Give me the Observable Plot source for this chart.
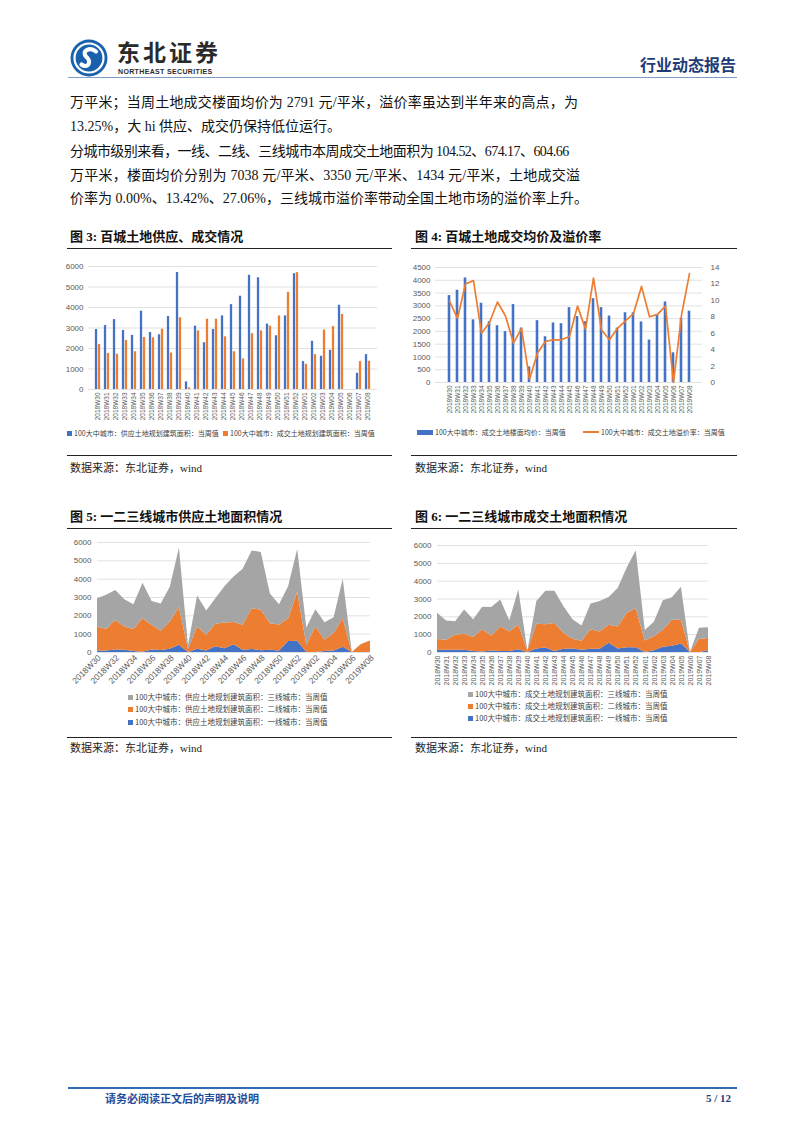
<!DOCTYPE html>
<html><head><meta charset="utf-8">
<script src="https://cdn.jsdelivr.net/npm/d3@7"></script>
<script src="https://cdn.jsdelivr.net/npm/@observablehq/plot@0.6"></script>
<style>
body{margin:0;background:#fff;}
#page{position:relative;width:802px;height:1133px;overflow:hidden;font-family:"Liberation Serif","Noto Sans CJK SC",serif;color:#111;background:#fff;}
.abs{position:absolute;}
.bl{position:absolute;left:70px;font-size:14px;line-height:16px;white-space:nowrap;text-align:justify;text-align-last:justify;}
.ft{position:absolute;font-size:13px;line-height:16px;font-weight:bold;white-space:nowrap;}
.rule{position:absolute;height:0;border-top:1.5px solid #222;}
.src{position:absolute;font-size:11px;line-height:14px;white-space:nowrap;color:#222;}
.lg{position:absolute;font-size:7px;line-height:9px;color:#404040;white-space:nowrap;font-family:"Noto Sans CJK SC",sans-serif;}
.sw{display:inline-block;width:5px;height:5px;margin-right:2px;vertical-align:0px;}
.chart{position:absolute;}
</style></head>
<body><div id="page">

<!-- header -->
<svg class="abs" style="left:70px;top:39px" width="38" height="38" viewBox="0 0 38 38">
  <circle cx="19" cy="19" r="18.5" fill="#1a61ad"/>
  <circle cx="19" cy="19" r="14.5" fill="none" stroke="#fff" stroke-width="2.2"/>
  <path d="M26 12.5 C20 7.5, 10.5 12, 16.5 18 C22.5 23.5, 17 30, 11.5 25.5" fill="none" stroke="#fff" stroke-width="4.2" stroke-linecap="round"/>
</svg>
<div class="abs" style="left:117px;top:40px;font-size:23px;line-height:22px;font-weight:bold;color:#2a2a2a;font-family:'Noto Sans CJK SC';letter-spacing:3px">东北证券</div>
<div class="abs" style="left:118px;top:68px;font-size:7px;line-height:8px;font-weight:bold;color:#2a2a2a;font-family:'Liberation Sans';letter-spacing:0.35px">NORTHEAST SECURITIES</div>
<div class="abs" style="left:640px;top:54px;font-size:16px;line-height:20px;font-weight:bold;color:#1e3c78;font-family:'Noto Sans CJK SC'">行业动态报告</div>
<div class="abs" style="left:68px;top:77px;width:669px;height:0;border-top:1px solid #7f9cc8"></div>

<!-- body text -->
<div class="bl" style="top:95px;width:508px">万平米；当周土地成交楼面均价为 2791 元/平米，溢价率虽达到半年来的高点，为</div>
<div class="bl" style="top:119px;text-align-last:auto">13.25%，大 hi 供应、成交仍保持低位运行。</div>
<div class="bl" style="top:144px;width:498px;letter-spacing:-0.55px">分城市级别来看，一线、二线、三线城市本周成交土地面积为 104.52、674.17、604.66</div>
<div class="bl" style="top:168px;width:510px">万平米，楼面均价分别为 7038 元/平米、3350 元/平米、1434 元/平米，土地成交溢</div>
<div class="bl" style="top:191px;width:508px">价率为 0.00%、13.42%、27.06%，三线城市溢价率带动全国土地市场的溢价率上升。</div>

<!-- figure titles row 1 -->
<div class="ft" style="left:70px;top:229px">图 3: 百城土地供应、成交情况</div>
<div class="ft" style="left:415px;top:229px">图 4: 百城土地成交均价及溢价率</div>
<div class="rule" style="left:67px;top:248px;width:325px"></div>
<div class="rule" style="left:411px;top:248px;width:326px"></div>
<div id="c3" class="chart" style="left:60px;top:258px"></div>
<div id="c4" class="chart" style="left:400px;top:258px"></div>
<div class="lg" style="left:67px;top:429px"><span class="sw" style="background:#4472C4"></span>100大中城市：供应土地规划建筑面积：当周值</div>
<div class="lg" style="left:223px;top:429px"><span class="sw" style="background:#ED7D31"></span>100大中城市：成交土地规划建筑面积：当周值</div>
<div class="lg" style="left:417px;top:428px"><span class="sw" style="background:#4472C4;width:16px"></span>100大中城市：成交土地楼面均价：当周值</div>
<div class="lg" style="left:583px;top:428px"><span class="sw" style="background:#ED7D31;width:16px;height:2px;vertical-align:2px"></span>100大中城市：成交土地溢价率：当周值</div>
<div class="rule" style="left:67px;top:455px;width:325px"></div>
<div class="rule" style="left:411px;top:455px;width:326px"></div>
<div class="src" style="left:70px;top:461px">数据来源：东北证券，wind</div>
<div class="src" style="left:415px;top:461px">数据来源：东北证券，wind</div>

<!-- figure titles row 2 -->
<div class="ft" style="left:70px;top:509px">图 5: 一二三线城市供应土地面积情况</div>
<div class="ft" style="left:415px;top:509px">图 6: 一二三线城市成交土地面积情况</div>
<div class="rule" style="left:67px;top:528px;width:325px"></div>
<div class="rule" style="left:411px;top:528px;width:326px"></div>
<div id="c5" class="chart" style="left:60px;top:535px"></div>
<div id="c6" class="chart" style="left:400px;top:535px"></div>
<div class="lg" style="left:128px;top:692px;font-size:7.5px"><span class="sw" style="background:#A5A5A5"></span>100大中城市：供应土地规划建筑面积：三线城市：当周值</div>
<div class="lg" style="left:128px;top:704px;font-size:7.5px"><span class="sw" style="background:#ED7D31"></span>100大中城市：供应土地规划建筑面积：二线城市：当周值</div>
<div class="lg" style="left:128px;top:717px;font-size:7.5px"><span class="sw" style="background:#4472C4"></span>100大中城市：供应土地规划建筑面积：一线城市：当周值</div>
<div class="lg" style="left:468px;top:689px;font-size:7.5px"><span class="sw" style="background:#A5A5A5"></span>100大中城市：成交土地规划建筑面积：三线城市：当周值</div>
<div class="lg" style="left:468px;top:701px;font-size:7.5px"><span class="sw" style="background:#ED7D31"></span>100大中城市：成交土地规划建筑面积：二线城市：当周值</div>
<div class="lg" style="left:468px;top:713px;font-size:7.5px"><span class="sw" style="background:#4472C4"></span>100大中城市：成交土地规划建筑面积：一线城市：当周值</div>
<div class="rule" style="left:67px;top:737px;width:325px"></div>
<div class="rule" style="left:411px;top:737px;width:326px"></div>
<div class="src" style="left:70px;top:741px">数据来源：东北证券，wind</div>
<div class="src" style="left:415px;top:741px">数据来源：东北证券，wind</div>

<!-- footer -->
<div class="abs" style="left:68px;top:1087px;width:669px;height:0;border-top:2px solid #2f6db5"></div>
<div class="abs" style="left:105px;top:1091px;font-size:11px;line-height:14px;font-weight:bold;color:#1f4e9a;font-family:'Noto Sans CJK SC'">请务必阅读正文后的声明及说明</div>
<div class="abs" style="left:706px;top:1091px;font-size:11px;line-height:14px;font-weight:bold;color:#1f3d7a">5 / 12</div>

</div>
<script>
// ---------- data ----------
const weeks = ["2018W30","2018W31","2018W32","2018W33","2018W34","2018W35","2018W36","2018W37","2018W38","2018W39",
  "2018W40","2018W41","2018W42","2018W43","2018W44","2018W45","2018W46","2018W47","2018W48","2018W49","2018W50",
  "2018W51","2018W52","2019W01","2019W02","2019W03","2019W04","2019W05","2019W06","2019W07","2019W08"];
// Fig 3: supply & transaction planned floor area (10k m2)
const supplyArea = [2930,3120,3410,2880,2640,3820,2780,2670,3560,5710,370,3090,2280,2930,3590,4140,4550,5570,5450,3190,2620,3590,5650,1360,2350,1620,1910,4110,0,790,1700];
const dealArea   = [2200,1760,1720,2390,1840,2540,2520,2940,1780,3500,80,2860,3430,3430,2570,1840,1490,2720,2860,3090,3590,4740,5700,1230,1700,2900,3070,3660,0,1360,1380];
// Fig 4: average floor price (yuan/m2) and premium rate (%)
const avgPrice    = [3400,3610,4090,2450,3100,2380,2220,1990,3050,2130,610,2420,1790,2330,2300,2930,2580,2380,3280,2930,2600,2130,2730,2730,2370,1660,2640,3150,1160,2510,2791];
const premiumRate = [9.9,7.8,12.0,12.4,6.0,7.3,9.8,8.1,4.8,6.6,0.4,3.6,5.0,5.2,5.2,5.6,9.3,6.5,12.7,6.4,5.2,6.6,7.5,8.4,11.7,8.0,8.3,9.3,0.0,8.2,13.25];
// Fig 5: supply by city tier
const supplyTier1 = [80,80,130,120,50,20,130,110,180,400,0,180,80,320,200,420,120,160,100,120,80,600,620,0,0,50,80,280,0,0,0];
const supplyTier2 = [1310,1170,1620,1270,1200,1820,1350,1050,1480,2040,160,1210,860,1220,1410,1210,1360,2230,2200,1450,1420,1240,2670,400,1390,620,950,1560,0,430,630];
const supplyTier3 = [1540,1870,1630,1490,1350,1940,1300,1480,1900,3240,210,1690,1320,1390,1970,2490,3060,3150,3150,1620,1100,1740,2330,930,940,950,870,2160,0,0,0];
// Fig 6: transaction by city tier
const dealTier1 = [120,120,120,120,60,30,80,50,50,150,0,200,250,60,180,200,120,180,180,520,200,260,260,0,100,300,350,480,0,0,105];
const dealTier2 = [610,570,850,900,780,1250,830,1380,1100,1380,80,1380,1300,1560,880,550,510,1100,970,1010,1230,1920,2200,650,780,950,1460,1330,0,730,674];
const dealTier3 = [1470,1070,750,1370,1000,1260,1610,1510,630,1970,0,1280,1880,1810,1510,1090,860,1440,1710,1560,2160,2560,3240,580,820,1650,1260,1850,0,630,605];
const areaTicks = [0,1000,2000,3000,4000,5000,6000];
const priceTicks = [0,500,1000,1500,2000,2500,3000,3500,4000,4500];
const rateTicks = [0,2,4,6,8,10,12,14];
const tiers = ["一线城市","二线城市","三线城市"];

const BLUE = "#4472C4", ORANGE = "#ED7D31", GRAY = "#A5A5A5", GRID = "#d9d9d9";
const FONT = "'Liberation Sans','Noto Sans CJK SC',sans-serif";
const baseStyle = {fontSize: "8px", fontFamily: FONT, color: "#595959", background: "transparent", overflow: "visible"};

// ---------- Fig 3 ----------
{
  const W = 330, H = 172, ml = 28, mr = 13;
  const bw = (W - ml - mr) / weeks.length;
  const rows = weeks.map((w, i) => ({week: w, supply: supplyArea[i], deal: dealArea[i]}));
  const chart = Plot.plot({
    width: W, height: H, marginLeft: ml, marginRight: mr, marginTop: 8, marginBottom: 41,
    style: baseStyle,
    x: {type: "band", domain: weeks, padding: 0, axis: null},
    y: {domain: [0, 6000], ticks: areaTicks, tickSize: 0, tickPadding: 5, label: null, tickFormat: d => String(d)},
    marks: [
      Plot.ruleY(areaTicks, {stroke: GRID, strokeWidth: 0.8}),
      Plot.barY(rows, {x: "week", y: "supply", fill: BLUE, insetLeft: bw * 0.2, insetRight: bw * 0.52}),
      Plot.barY(rows, {x: "week", y: "deal", fill: ORANGE, insetLeft: bw * 0.52, insetRight: bw * 0.2}),
      Plot.text(weeks, {x: d => d, frameAnchor: "bottom", dy: 3, rotate: -90, textAnchor: "end", lineAnchor: "middle", fontSize: 6.5, fill: "#595959"})
    ]
  });
  document.getElementById("c3").appendChild(chart);
}

// ---------- Fig 4 ----------
{
  const W = 330, H = 160, ml = 35, mr = 28;
  const bw = (W - ml - mr) / weeks.length;
  const k = 4500 / 14;
  const rows = weeks.map((w, i) => ({week: w, price: avgPrice[i], rate: premiumRate[i]}));
  const chart = Plot.plot({
    width: W, height: H, marginLeft: ml, marginRight: mr, marginTop: 9, marginBottom: 36,
    style: baseStyle,
    x: {type: "band", domain: weeks, padding: 0, axis: null},
    y: {domain: [0, 4500], ticks: priceTicks, tickSize: 0, tickPadding: 5, label: null, tickFormat: d => String(d)},
    marks: [
      Plot.ruleY(priceTicks, {stroke: GRID, strokeWidth: 0.8}),
      Plot.barY(rows, {x: "week", y: "price", fill: BLUE, insetLeft: (bw - 3.2) / 2, insetRight: (bw - 3.2) / 2}),
      Plot.line(rows, {x: "week", y: d => d.rate * k, stroke: ORANGE, strokeWidth: 1.7}),
      Plot.text(rateTicks, {y: d => d * k, text: d => String(d), frameAnchor: "right", dx: 8, textAnchor: "start", fontSize: 8, fill: "#595959"}),
      Plot.text(weeks, {x: d => d, frameAnchor: "bottom", dy: 3, rotate: -90, textAnchor: "end", lineAnchor: "middle", fontSize: 6.5, fill: "#595959"})
    ]
  });
  document.getElementById("c4").appendChild(chart);
}

// ---------- stacked area helper ----------
function tierRows(t1, t2, t3) {
  const rows = [];
  [t1, t2, t3].forEach((arr, j) => arr.forEach((v, i) => rows.push({i, tier: tiers[j], v})));
  return rows;
}

// ---------- Fig 5 ----------
{
  const W = 330, H = 157;
  const labelIdx = d3.range(0, weeks.length, 2);
  const chart = Plot.plot({
    width: W, height: H, marginLeft: 37, marginRight: 20, marginTop: 7, marginBottom: 40,
    style: baseStyle,
    x: {type: "linear", domain: [0, weeks.length - 1], axis: null},
    y: {domain: [0, 6000], ticks: areaTicks, tickSize: 0, tickPadding: 6, label: null, tickFormat: d => String(d)},
    color: {domain: tiers, range: [BLUE, ORANGE, GRAY]},
    marks: [
      Plot.ruleY(areaTicks, {stroke: GRID, strokeWidth: 0.8}),
      Plot.areaY(tierRows(supplyTier1, supplyTier2, supplyTier3), {x: "i", y: "v", fill: "tier"}),
      Plot.text(labelIdx, {x: d => d, text: d => weeks[d], frameAnchor: "bottom", dy: 4, dx: 2, rotate: -45, textAnchor: "end", lineAnchor: "middle", fontSize: 8.5, fill: "#595959"})
    ]
  });
  document.getElementById("c5").appendChild(chart);
}

// ---------- Fig 6 ----------
{
  const W = 330, H = 157;
  const chart = Plot.plot({
    width: W, height: H, marginLeft: 37, marginRight: 22, marginTop: 10, marginBottom: 40,
    style: baseStyle,
    x: {type: "linear", domain: [0, weeks.length - 1], axis: null},
    y: {domain: [0, 6000], ticks: areaTicks, tickSize: 0, tickPadding: 6, label: null, tickFormat: d => String(d)},
    color: {domain: tiers, range: [BLUE, ORANGE, GRAY]},
    marks: [
      Plot.ruleY(areaTicks, {stroke: GRID, strokeWidth: 0.8}),
      Plot.areaY(tierRows(dealTier1, dealTier2, dealTier3), {x: "i", y: "v", fill: "tier"}),
      Plot.text(d3.range(weeks.length), {x: d => d, text: d => weeks[d], frameAnchor: "bottom", dy: 3, rotate: -90, textAnchor: "end", lineAnchor: "middle", fontSize: 7, fill: "#595959"})
    ]
  });
  document.getElementById("c6").appendChild(chart);
}
</script>
</body></html>
